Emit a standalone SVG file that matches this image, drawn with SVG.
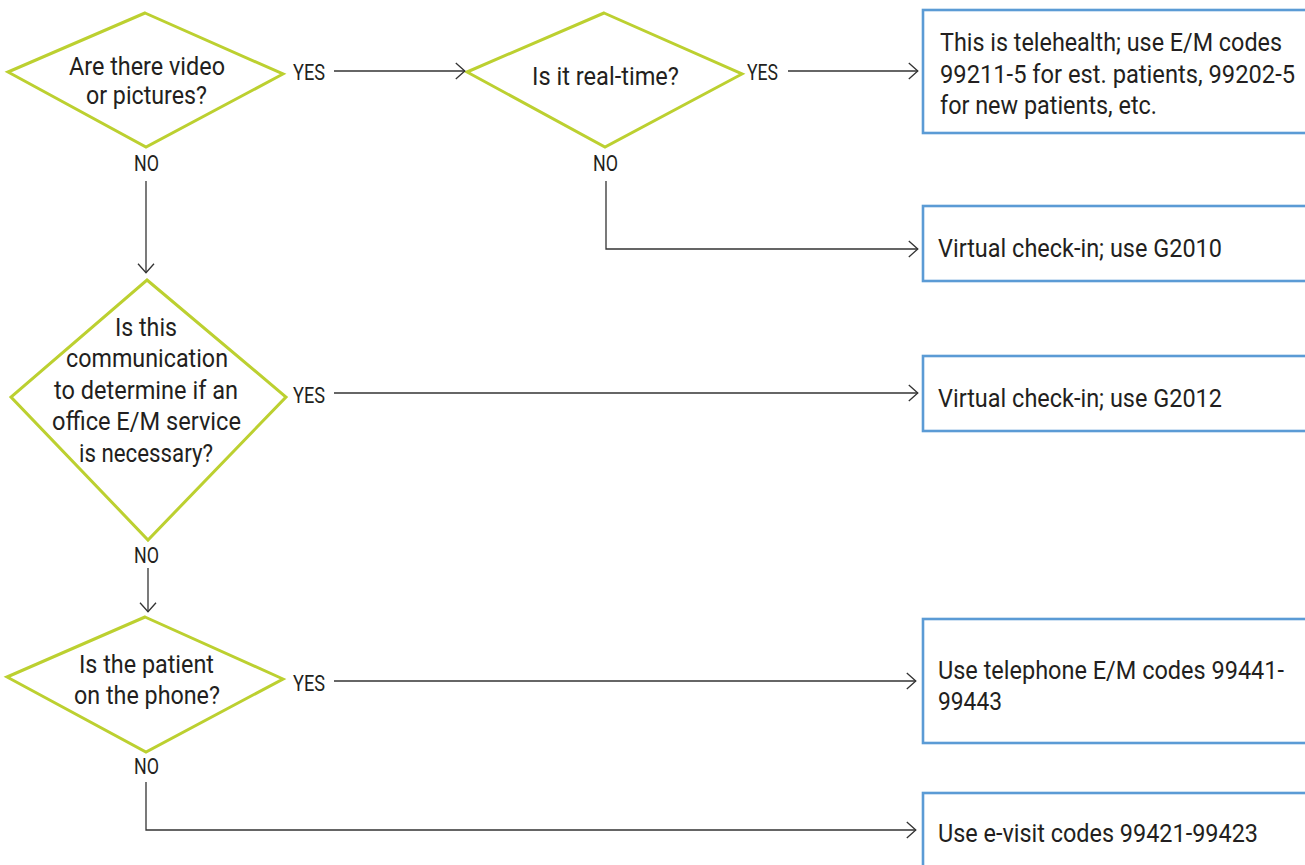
<svg xmlns="http://www.w3.org/2000/svg" width="1305" height="865" viewBox="0 0 1305 865">
<defs>
<style>
.dia{fill:#fff;stroke:#BCD030;stroke-width:3;stroke-linejoin:miter}
.box{fill:#fff;stroke:#5B9BD5;stroke-width:2.6}
.t{font-family:Roboto,"Liberation Sans",sans-serif;font-size:26.5px;fill:#231F20}
.lb{font-family:Roboto,"Liberation Sans",sans-serif;font-size:22px;fill:#231F20}
.c{fill:none;stroke:#333;stroke-width:1.3}
</style>
<marker id="ah" markerUnits="userSpaceOnUse" viewBox="0 0 11 18" refX="10.2" refY="9" markerWidth="11" markerHeight="18" orient="auto">
<path d="M1,1 L10,9 L1,17" fill="none" stroke="#333" stroke-width="1.3"/>
</marker>
</defs>
<rect width="1305" height="865" fill="#fff"/>

<g id="d1">
<polygon class="dia" points="145,13 283,74 146,147 8,72"/>
<text class="t" x="69" y="75" textLength="156" lengthAdjust="spacingAndGlyphs">Are there video</text>
<text class="t" x="86" y="104" textLength="121" lengthAdjust="spacingAndGlyphs">or pictures?</text>
</g>
<g id="d2">
<polygon class="dia" points="604,13 742,74 605,147 467,72"/>
<text class="t" x="532" y="85" textLength="147" lengthAdjust="spacingAndGlyphs">Is it real-time?</text>
</g>
<g id="d3">
<polygon class="dia" points="147,280 286,397 148,540 11,397"/>
<text class="t" x="115" y="336" textLength="62" lengthAdjust="spacingAndGlyphs">Is this</text>
<text class="t" x="66" y="367" textLength="162" lengthAdjust="spacingAndGlyphs">communication</text>
<text class="t" x="54" y="399" textLength="184" lengthAdjust="spacingAndGlyphs">to determine if an</text>
<text class="t" x="52" y="430" textLength="189" lengthAdjust="spacingAndGlyphs">office E/M service</text>
<text class="t" x="79" y="462" textLength="134" lengthAdjust="spacingAndGlyphs">is necessary?</text>
</g>
<g id="d4">
<polygon class="dia" points="145,617 283,679 146,752 7,677"/>
<text class="t" x="79" y="673" textLength="135" lengthAdjust="spacingAndGlyphs">Is the patient</text>
<text class="t" x="74" y="704" textLength="146" lengthAdjust="spacingAndGlyphs">on the phone?</text>
</g>

<g id="b1">
<rect class="box" x="923" y="10" width="400" height="123"/>
<text class="t" x="940" y="51" textLength="342" lengthAdjust="spacingAndGlyphs">This is telehealth; use E/M codes</text>
<text class="t" x="940" y="83" textLength="355" lengthAdjust="spacingAndGlyphs">99211-5 for est. patients, 99202-5</text>
<text class="t" x="940" y="114" textLength="217" lengthAdjust="spacingAndGlyphs">for new patients, etc.</text>
</g>
<g id="b2">
<rect class="box" x="923" y="206" width="400" height="75"/>
<text class="t" x="938" y="257" textLength="284" lengthAdjust="spacingAndGlyphs">Virtual check-in; use G2010</text>
</g>
<g id="b3">
<rect class="box" x="923" y="356" width="400" height="75"/>
<text class="t" x="938" y="407" textLength="284" lengthAdjust="spacingAndGlyphs">Virtual check-in; use G2012</text>
</g>
<g id="b4">
<rect class="box" x="923" y="619" width="400" height="124"/>
<text class="t" x="938" y="679" textLength="346" lengthAdjust="spacingAndGlyphs">Use telephone E/M codes 99441-</text>
<text class="t" x="938" y="710" textLength="64" lengthAdjust="spacingAndGlyphs">99443</text>
</g>
<g id="b5">
<rect class="box" x="923" y="793" width="400" height="100"/>
<text class="t" x="938" y="842" textLength="320" lengthAdjust="spacingAndGlyphs">Use e-visit codes 99421-99423</text>
</g>

<g id="connectors">
<path class="c" d="M334,71 H465" marker-end="url(#ah)"/>
<path class="c" d="M788,71 H918" marker-end="url(#ah)"/>
<path class="c" d="M146,181 V273" marker-end="url(#ah)"/>
<path class="c" d="M606,181 V249 H918" marker-end="url(#ah)"/>
<path class="c" d="M334,393 H918" marker-end="url(#ah)"/>
<path class="c" d="M148,568 V612" marker-end="url(#ah)"/>
<path class="c" d="M334,681 H916" marker-end="url(#ah)"/>
<path class="c" d="M146,782 V830 H916" marker-end="url(#ah)"/>
<text class="lb" x="293" y="80" textLength="32" lengthAdjust="spacingAndGlyphs">YES</text>
<text class="lb" x="747" y="80" textLength="31" lengthAdjust="spacingAndGlyphs">YES</text>
<text class="lb" x="134" y="171" textLength="25" lengthAdjust="spacingAndGlyphs">NO</text>
<text class="lb" x="593" y="171" textLength="25" lengthAdjust="spacingAndGlyphs">NO</text>
<text class="lb" x="293" y="403" textLength="32" lengthAdjust="spacingAndGlyphs">YES</text>
<text class="lb" x="134" y="563" textLength="25" lengthAdjust="spacingAndGlyphs">NO</text>
<text class="lb" x="293" y="691" textLength="32" lengthAdjust="spacingAndGlyphs">YES</text>
<text class="lb" x="134" y="774" textLength="25" lengthAdjust="spacingAndGlyphs">NO</text>
</g>
</svg>
